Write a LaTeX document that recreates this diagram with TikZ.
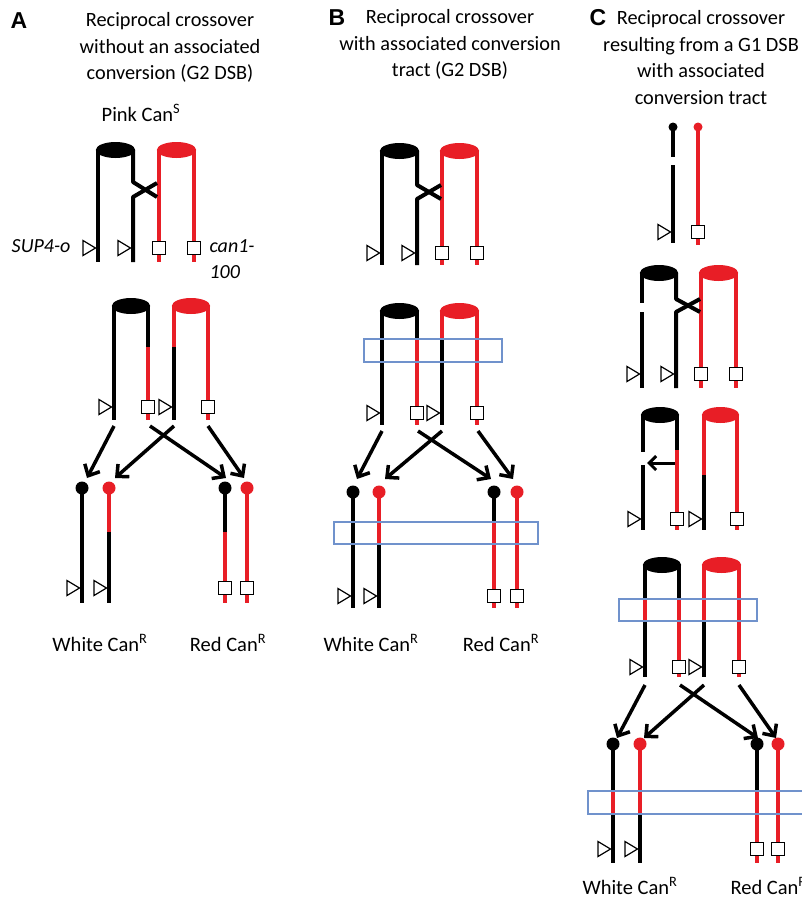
\documentclass[tikz,border=0pt]{standalone}
\usepackage{fontspec}
\setmainfont{Carlito}
\newfontfamily\panelfont{Liberation Sans}
\usetikzlibrary{arrows.meta}
\definecolor{chrred}{RGB}{232,30,38}
\definecolor{boxblue}{RGB}{112,146,204}
\newcommand\mytri[2]{\draw[black,line width=1.2pt,fill=white,line join=miter] ({#1-15},{#2-7.5}) -- ({#1-2.5},{#2}) -- ({#1-15},{#2+7.5}) -- cycle;}
\newcommand\mysq[2]{\draw[black,line width=1.3pt,fill=white] ({#1-6.5},{#2-6.5}) rectangle ({#1+6.5},{#2+6.5});}
\newcommand\mycap[4]{\fill[#4] ({(#1+#2)/2},{#3+8}) ellipse ({(#2-#1)/2+2.2} and 8);}
\newcommand\mydot[3]{\fill[#1] (#2,#3) circle (6.5);}
\begin{document}
\begin{tikzpicture}[x=1pt,y=-1pt,
  blk/.style={line width=4pt,black},
  rd/.style={line width=4pt,chrred},
  arr/.style={line width=3.5pt,black,-{Straight Barb[length=9pt,width=17pt]}},
  tbox/.style={draw=boxblue,line width=1.3pt},
  ttl/.style={font=\fontsize{20.3}{26.5}\selectfont,align=center},
  lbl/.style={font=\fontsize{20.5}{22}\selectfont},
  ilbl/.style={font=\fontsize{20}{22}\selectfont\itshape},
  pl/.style={font=\panelfont\bfseries\fontsize{23}{26}\selectfont}]
\useasboundingbox (0,0) rectangle (802,899);
\fill[white] (0,0) rectangle (802,899);

% ---------------- titles
\node[pl] (pA) at (19,21) {A};
\node[ttl] (tA) at (170,47.5) {Reciprocal crossover\\without an associated\\conversion (G2 DSB)};
\node[pl] (pB) at (337,18) {B};
\node[ttl] (tB) at (450,44.5) {Reciprocal crossover\\with associated conversion\\tract (G2 DSB)};
\node[pl] (pC) at (598,18) {C};
\node[ttl] (tC) at (701,57.5) {Reciprocal crossover\\resulting from a G1 DSB\\with associated\\conversion tract};

% ================= PANEL A
\node[lbl] (pink) at (141,113) {Pink Can\textsuperscript{S}};
% stage 1
\draw[blk] (98,150) -- (98,262);
\draw[rd] (159,150) -- (159,262);
\draw[rd] (194,150) -- (194,262);
\draw[blk,line join=round] (133,150) -- (133,182) -- (157,197);
\draw[blk,line join=round] (157,183) -- (133,197) -- (133,262);
\mycap{98}{133}{142}{black}
\mycap{159}{194}{142}{chrred}
\mytri{98}{248}\mytri{133}{248}\mysq{159}{248}\mysq{194}{248}
\node[ilbl,anchor=east] (sup) at (74,246) {SUP4-o};
\node[ilbl,anchor=west] (can) at (206,246) {can1-};
\node[ilbl,anchor=west] (can2) at (206,272) {100};
% stage 2
\draw[blk] (114,306) -- (114,420);
\draw[blk] (148,306) -- (148,347); \draw[rd] (148,347) -- (148,420);
\draw[rd] (174,306) -- (174,347); \draw[blk] (174,347) -- (174,420);
\draw[rd] (208,306) -- (208,420);
\mycap{114}{148}{298}{black}
\mycap{174}{208}{298}{chrred}
\mytri{114}{407}\mysq{148}{407}\mytri{174}{407}\mysq{208}{407}
\coordinate (a1s) at (114,426); \coordinate (a1e) at (87,478);
\coordinate (a2s) at (174,426); \coordinate (a2e) at (115,478);
\coordinate (a3s) at (150,426); \coordinate (a3e) at (226,478);
\coordinate (a4s) at (208,426); \coordinate (a4e) at (244,478);
\draw[arr] (a1s) -- (a1e); \draw[arr] (a2s) -- (a2e);
\draw[arr] (a3s) -- (a3e); \draw[arr] (a4s) -- (a4e);
% stage 3
\draw[blk] (82,488) -- (82,603);
\draw[rd] (109,488) -- (109,532); \draw[blk] (109,532) -- (109,603);
\draw[blk] (225,488) -- (225,532); \draw[rd] (225,532) -- (225,603);
\draw[rd] (247,488) -- (247,603);
\mydot{black}{82}{488}\mydot{chrred}{109}{488}\mydot{black}{225}{488}\mydot{chrred}{247}{488}
\mytri{82}{588}\mytri{109}{588}\mysq{225}{588}\mysq{247}{588}
\node[lbl] (wA) at (100,643) {White Can\textsuperscript{R}};
\node[lbl] (rA) at (228,643) {Red Can\textsuperscript{R}};

% ================= PANEL B
% stage 1
\draw[blk] (382,151) -- (382,265);
\draw[rd] (442,151) -- (442,265);
\draw[rd] (477,151) -- (477,265);
\draw[blk,line join=round] (417,151) -- (417,185) -- (441,199);
\draw[blk,line join=round] (441,185) -- (417,199) -- (417,265);
\mycap{382}{417}{143}{black}
\mycap{442}{477}{143}{chrred}
\mytri{382}{253}\mytri{417}{253}\mysq{442}{253}\mysq{477}{253}
% stage 2
\draw[blk] (382,311) -- (382,425);
\draw[blk] (417,311) -- (417,339); \draw[rd] (417,339) -- (417,425);
\draw[rd] (442,311) -- (442,339); \draw[blk] (442,339) -- (442,425);
\draw[rd] (477,311) -- (477,425);
\mycap{382}{417}{303}{black}
\mycap{442}{477}{303}{chrred}
\draw[tbox] (364,339) rectangle (502,362);
\mytri{382}{413}\mysq{417}{413}\mytri{442}{413}\mysq{477}{413}
\coordinate (b1s) at (382,431); \coordinate (b1e) at (357,479);
\coordinate (b2s) at (442,431); \coordinate (b2e) at (385,479);
\coordinate (b3s) at (418,431); \coordinate (b3e) at (491,479);
\coordinate (b4s) at (478,431); \coordinate (b4e) at (513,479);
\draw[arr] (b1s) -- (b1e); \draw[arr] (b2s) -- (b2e);
\draw[arr] (b3s) -- (b3e); \draw[arr] (b4s) -- (b4e);
% stage 3
\draw[blk] (353,492) -- (353,608);
\draw[rd] (379,492) -- (379,544); \draw[blk] (379,544) -- (379,608);
\draw[blk] (494,492) -- (494,522); \draw[rd] (494,522) -- (494,608);
\draw[rd] (517,492) -- (517,608);
\mydot{black}{353}{492}\mydot{chrred}{379}{492}\mydot{black}{494}{492}\mydot{chrred}{517}{492}
\draw[tbox] (334,522) rectangle (538,544);
\mytri{353}{596}\mytri{379}{596}\mysq{494}{596}\mysq{517}{596}
\node[lbl] (wB) at (371,643) {White Can\textsuperscript{R}};
\node[lbl] (rB) at (501,643) {Red Can\textsuperscript{R}};

% ================= PANEL C
% stage 1
\draw[blk] (673,127) -- (673,157);
\draw[blk] (673,165) -- (673,243);
\draw[rd] (698,127) -- (698,245);
\fill[black] (673,127) circle (4.5);
\fill[chrred] (698,127) circle (4.5);
\mytri{673}{232}\mysq{698}{232}
% stage 2
\draw[blk] (642,273) -- (642,303);
\draw[blk] (642,312) -- (642,388);
\draw[rd] (701,273) -- (701,388);
\draw[rd] (736,273) -- (736,388);
\draw[blk,line join=round] (676,273) -- (676,299) -- (700,312);
\draw[blk,line join=round] (700,299) -- (676,312) -- (676,388);
\mycap{642}{676}{265}{black}
\mycap{701}{736}{265}{chrred}
\mytri{642}{374}\mytri{676}{374}\mysq{701}{374}\mysq{736}{374}
% stage 3
\draw[blk] (643,415) -- (643,452);
\draw[blk] (643,465) -- (643,530);
\draw[blk] (677,415) -- (677,450); \draw[rd] (677,450) -- (677,530);
\draw[rd] (704,415) -- (704,475); \draw[blk] (704,475) -- (704,530);
\draw[rd] (737,415) -- (737,530);
\mycap{643}{677}{407}{black}
\mycap{704}{737}{407}{chrred}
\coordinate (hs) at (675,463); \coordinate (he) at (647,463);
\draw[line width=3pt,black,-{Straight Barb[length=7pt,width=14pt]}] (hs) -- (he);
\mytri{643}{519}\mysq{677}{519}\mytri{704}{519}\mysq{737}{519}
% stage 4
\draw[blk] (645,565) -- (645,599); \draw[rd] (645,599) -- (645,621); \draw[blk] (645,621) -- (645,677);
\draw[blk] (679,565) -- (679,599); \draw[rd] (679,599) -- (679,677);
\draw[rd] (704,565) -- (704,621); \draw[blk] (704,621) -- (704,677);
\draw[rd] (739,565) -- (739,677);
\mycap{645}{679}{557}{black}
\mycap{704}{739}{557}{chrred}
\draw[tbox] (619,599) rectangle (757,621);
\mytri{645}{667}\mysq{679}{667}\mytri{704}{667}\mysq{739}{667}
\coordinate (c1s) at (645,685); \coordinate (c1e) at (617,738);
\coordinate (c2s) at (704,685); \coordinate (c2e) at (644,738);
\coordinate (c3s) at (680,685); \coordinate (c3e) at (758,738);
\coordinate (c4s) at (739,685); \coordinate (c4e) at (776,738);
\draw[arr] (c1s) -- (c1e); \draw[arr] (c2s) -- (c2e);
\draw[arr] (c3s) -- (c3e); \draw[arr] (c4s) -- (c4e);
% stage 5
\draw[blk] (613,744) -- (613,791); \draw[rd] (613,791) -- (613,814); \draw[blk] (613,814) -- (613,863);
\draw[rd] (640,744) -- (640,814); \draw[blk] (640,814) -- (640,863);
\draw[blk] (757,744) -- (757,791); \draw[rd] (757,791) -- (757,863);
\draw[rd] (778,744) -- (778,863);
\mydot{black}{613}{744}\mydot{chrred}{640}{744}\mydot{black}{757}{744}\mydot{chrred}{778}{744}
\draw[tbox] (588,791) rectangle (812,814);
\mytri{613}{849}\mytri{640}{849}\mysq{757}{849}\mysq{778}{849}
\node[lbl] (wC) at (630,886) {White Can\textsuperscript{R}};
\node[lbl,anchor=west] (rC) at (727,886) {Red Can\textsuperscript{R}};
\end{tikzpicture}
\end{document}
